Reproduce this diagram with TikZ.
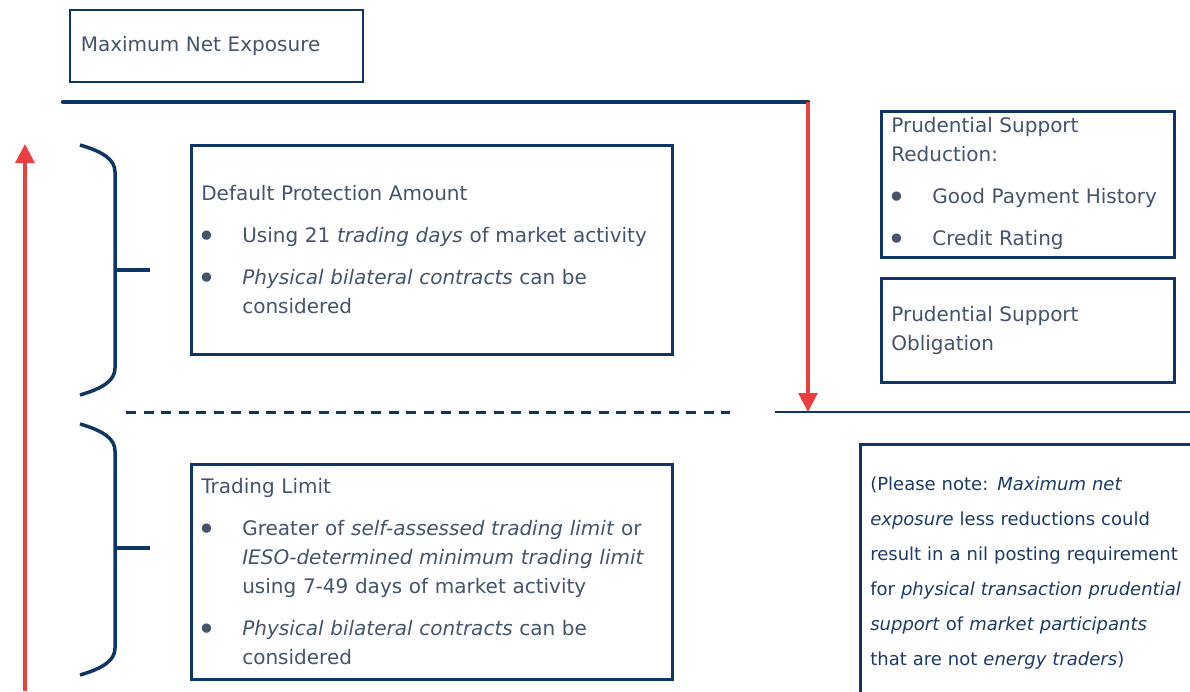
\documentclass[tikz,border=0pt]{standalone}
\usepackage{fontspec}
\setmainfont{DejaVu Sans}
\usetikzlibrary{arrows.meta}
\definecolor{navy}{RGB}{14,54,100}
\definecolor{slate}{RGB}{68,84,106}
\definecolor{notenavy}{RGB}{28,58,104}
\definecolor{arrowred}{RGB}{236,64,64}
\newcommand\blt[1]{\par\vspace{13pt}\noindent\hangindent=41pt\hangafter=1\makebox[41pt][l]{\hspace{-4pt}\raisebox{-5pt}{\fontsize{32}{29}\selectfont\textbullet}}#1\par}
\tikzset{
  panel/.style={draw=navy, line width=2.6pt, anchor=north west, inner xsep=10pt, inner ysep=0pt, align=left, text=slate, font=\fontsize{20}{29}\selectfont},
  brace/.style={draw=navy, line width=3.5pt},
  redarrow/.style={draw=arrowred, line width=3.2pt, -{Triangle[length=19pt,width=19pt]}},
}
\begin{document}
\begin{tikzpicture}[x=1pt,y=-1pt]
  \useasboundingbox (0,0) rectangle (1190,691);
  \clip (0,0) rectangle (1190,691);

  %% boxes
  \node[panel, line width=1.5pt, inner xsep=11pt, text width=271pt, minimum height=72pt] (mne) at (69,9) {Maximum Net Exposure};
  \node[panel, text width=461pt, minimum height=209pt] (dpa) at (190,144) {Default Protection Amount
    \blt{Using 21 \textit{trading days} of market activity}
    \blt{\textit{Physical bilateral contracts} can be\newline considered}};
  \node[panel, text width=461pt, minimum height=215pt] (tl) at (190,463) {Trading Limit
    \blt{Greater of \textit{self-assessed trading limit} or\newline \textit{IESO-determined minimum trading limit}\newline using 7-49 days of market activity}
    \blt{\textit{Physical bilateral contracts} can be\newline considered}};
  \node[panel, text width=273pt, minimum height=146pt] (psr) at (880,110) {Prudential Support\\ Reduction:
    \blt{Good Payment History}
    \blt{Credit Rating}};
  \node[panel, text width=273pt, minimum height=104pt] (pso) at (880,277) {Prudential Support\\ Obligation};
  \node[panel, text=notenavy, font=\fontsize{18}{35}\selectfont, text width=360pt, inner ysep=33pt] (note) at (859,443)
    {(Please note: \textit{Maximum net}\\ \textit{exposure} less reductions could\\ result in a nil posting requirement\\ for \textit{physical transaction prudential}\\ \textit{support} of \textit{market participants}\\ that are not \textit{energy traders})\par\vspace*{80pt}};

  %% levels
  \coordinate (topL) at (63,102);
  \coordinate (topR) at (808,102);
  \coordinate (midR) at (808,412);
  \coordinate (dashL) at (126,412);
  \coordinate (dashR) at (730,412);
  \coordinate (lineL) at (775,412);
  \coordinate (lineR) at (1190,412);
  \coordinate (upS) at (25,691);
  \coordinate (upE) at (25,144);
  \draw[navy, line width=4.5pt, line cap=round] (topL) -- (topR);
  \draw[navy, line width=3pt, dash pattern=on 10pt off 7.5pt] (dashL) -- (dashR);
  \draw[navy, line width=2.6pt] (lineL) -- (lineR);

  %% arrows
  \draw[redarrow] (topR) -- (midR);
  \draw[redarrow] (upS) -- (upE);

  %% braces
  \foreach \t/\b/\m in {145/395/270, 424/675/548} {
    \draw[brace] (80,\t) .. controls (104,\t+7) and (115,\t+15) .. (115,\t+27) -- (115,\b-27) .. controls (115,\b-15) and (104,\b-7) .. (80,\b);
    \draw[brace] (115,\m) -- (150,\m);
  }
\end{tikzpicture}
\end{document}
